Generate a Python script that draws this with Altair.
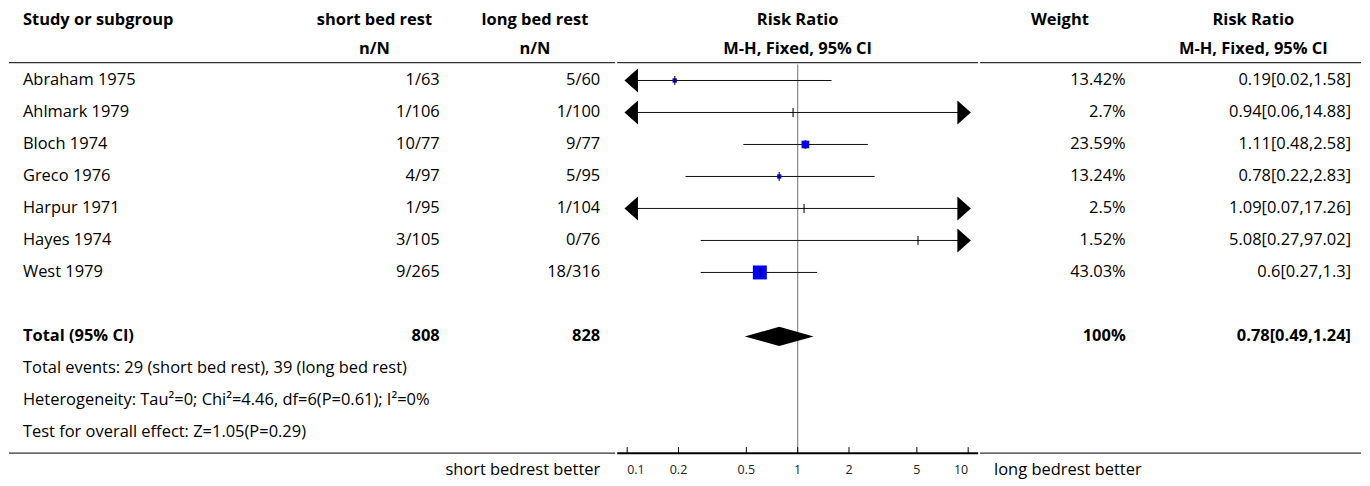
import altair as alt
import pandas as pd

# ---------------- data ----------------
studies = ["Abraham 1975", "Ahlmark 1979", "Bloch 1974", "Greco 1976",
           "Harpur 1971", "Hayes 1974", "West 1979"]
short_nN = ["1/63", "1/106", "10/77", "4/97", "1/95", "3/105", "9/265"]
long_nN = ["5/60", "1/100", "9/77", "5/95", "1/104", "0/76", "18/316"]
rr = [0.19, 0.94, 1.11, 0.78, 1.09, 5.08, 0.6]
ci_low = [0.02, 0.06, 0.48, 0.22, 0.07, 0.27, 0.27]
ci_high = [1.58, 14.88, 2.58, 2.83, 17.26, 97.02, 1.3]
weights = [13.42, 2.7, 23.59, 13.24, 2.5, 1.52, 43.03]
weight_labels = ["13.42%", "2.7%", "23.59%", "13.24%", "2.5%", "1.52%", "43.03%"]
rr_labels = ["0.19[0.02,1.58]", "0.94[0.06,14.88]", "1.11[0.48,2.58]",
             "0.78[0.22,2.83]", "1.09[0.07,17.26]", "5.08[0.27,97.02]", "0.6[0.27,1.3]"]

total_label = "Total (95% CI)"
total_short = "808"
total_long = "828"
total_rr = 0.78
total_low = 0.49
total_high = 1.24
total_weight = "100%"
total_rr_label = "0.78[0.49,1.24]"

footnotes = ["Total events: 29 (short bed rest), 39 (long bed rest)",
             "Heterogeneity: Tau\u00b2=0; Chi\u00b2=4.46, df=6(P=0.61); I\u00b2=0%",
             "Test for overall effect: Z=1.05(P=0.29)"]

axis_ticks = [0.1, 0.2, 0.5, 1, 2, 5, 10]
axis_tick_labels = ["0.1", "0.2", "0.5", "1", "2", "5", "10"]
left_favours = "short bedrest better"
right_favours = "long bedrest better"

header1 = ["Study or subgroup", "short bed rest", "long bed rest", "Risk Ratio", "Weight", "Risk Ratio"]
header2 = ["n/N", "n/N", "M-H, Fixed, 95% CI", "M-H, Fixed, 95% CI"]

# ---------------- layout ----------------
FONT = "Open Sans"
FS = 16.5
H = 470
W_LEFT, W_MID, W_RIGHT = 609, 362, 383
Y_DOM = [-2.244, 12.403]
ROW_H1, ROW_H2 = -1.885, -0.997
ROW_TOP_LINE, ROW_AXIS, ROW_AXLAB = -0.56, 11.65, 12.17
ROW_TOTAL = 8
FOOT_ROWS = [9, 10, 11]
LOG_DOM = [0.0874, 11.44]
CLIP_LO, CLIP_HI = 0.1, 10

# column anchors (page pixels)
X_STUDY = 22
X_SHORT_C, X_SHORT_R = 374.5, 440
X_LONG_C, X_LONG_R = 535.5, 601
X_WEIGHT_C, X_WEIGHT_R = 1060, 1126
X_RR_C, X_RR_R = 1254, 1352
X_RFAV = 994

yscale = alt.Scale(domain=Y_DOM, reverse=True, nice=False, zero=False)
xl_scale = alt.Scale(domain=[8, 617], nice=False, zero=False)
xr_scale = alt.Scale(domain=[979, 1362], nice=False, zero=False)
xm_scale = alt.Scale(type="log", domain=LOG_DOM, nice=False)

Y = lambda f: alt.Y(f, type="quantitative", scale=yscale, axis=None)
XL = lambda f: alt.X(f, type="quantitative", scale=xl_scale, axis=None)
XR = lambda f: alt.X(f, type="quantitative", scale=xr_scale, axis=None)
XM = lambda f: alt.X(f, type="quantitative", scale=xm_scale, axis=None)

rows = list(range(len(studies)))
studies_df = pd.DataFrame({
    "row": rows, "study": studies, "s": short_nN, "l": long_nN,
    "rr": rr, "lo": ci_low, "hi": ci_high, "w": weights,
    "wl": weight_labels, "rl": rr_labels,
})
studies_df["lo_c"] = studies_df["lo"].clip(lower=CLIP_LO)
studies_df["hi_c"] = studies_df["hi"].clip(upper=CLIP_HI)


def txt(df, align, bold=False, size=FS):
    return alt.Chart(df).mark_text(align=align, baseline="middle", font=FONT,
                                   fontSize=size, fontWeight="bold" if bold else "normal",
                                   color="black")


def col_text(field, x, align, enc):
    return txt(studies_df, align).transform_calculate(sx=str(x)).encode(
        x=enc("sx"), y=Y("row"), text=f"{field}:N")


# ---- left panel ----
lh1 = pd.DataFrame({"x": [X_STUDY], "row": [ROW_H1], "t": [header1[0]]})
lh1_t = txt(lh1, "left", True).encode(x=XL("x"), y=Y("row"), text="t:N")
lhc = pd.DataFrame({"x": [X_SHORT_C, X_LONG_C, X_SHORT_C, X_LONG_C],
                    "row": [ROW_H1, ROW_H1, ROW_H2, ROW_H2],
                    "t": [header1[1], header1[2], header2[0], header2[1]]})
lhc_t = txt(lhc, "center", True).encode(x=XL("x"), y=Y("row"), text="t:N")

study_txt = col_text("study", X_STUDY, "left", XL)
short_txt = col_text("s", X_SHORT_R, "right", XL)
long_txt = col_text("l", X_LONG_R, "right", XL)

tot_df = pd.DataFrame({"x": [X_STUDY], "row": [ROW_TOTAL], "t": [total_label]})
tot_a = txt(tot_df, "left", True).encode(x=XL("x"), y=Y("row"), text="t:N")
tot_n = pd.DataFrame({"x": [X_SHORT_R, X_LONG_R], "row": [ROW_TOTAL] * 2,
                      "t": [total_short, total_long]})
tot_b = txt(tot_n, "right", True).encode(x=XL("x"), y=Y("row"), text="t:N")

foot_df = pd.DataFrame({"x": [X_STUDY] * 3, "row": FOOT_ROWS, "t": footnotes})
foot = txt(foot_df, "left").encode(x=XL("x"), y=Y("row"), text="t:N")

lfav = pd.DataFrame({"x": [X_LONG_R], "row": [ROW_AXLAB], "t": [left_favours]})
lfav_t = txt(lfav, "right").encode(x=XL("x"), y=Y("row"), text="t:N")

lline = pd.DataFrame({"x": [8, 8], "x2": [616, 616], "row": [ROW_TOP_LINE, ROW_AXIS]})
lline_r = alt.Chart(lline).mark_rule(color="#333", strokeWidth=1.3).encode(
    x=XL("x"), x2="x2:Q", y=Y("row"))

left = alt.layer(lline_r, lh1_t, lhc_t, study_txt, short_txt, long_txt,
                 tot_a, tot_b, foot, lfav_t).properties(width=W_LEFT, height=H)

# ---- middle panel ----
mhead = pd.DataFrame({"x": [1, 1], "row": [ROW_H1, ROW_H2], "t": [header1[3], header2[2]]})
mhead_t = txt(mhead, "center", True).encode(x=XM("x"), y=Y("row"), text="t:N")

mline = pd.DataFrame({"x": [LOG_DOM[0]], "x2": [LOG_DOM[1]], "row": [ROW_TOP_LINE]})
mline_r = alt.Chart(mline).mark_rule(color="#333", strokeWidth=1.3).encode(
    x=XM("x"), x2="x2:Q", y=Y("row"))
maxis = pd.DataFrame({"x": [LOG_DOM[0]], "x2": [LOG_DOM[1]], "row": [ROW_AXIS]})
maxis_r = alt.Chart(maxis).mark_rule(color="black", strokeWidth=2).encode(
    x=XM("x"), x2="x2:Q", y=Y("row"))

ref = pd.DataFrame({"x": [1], "row": [-0.5], "row2": [ROW_AXIS]})
ref_r = alt.Chart(ref).mark_rule(color="#8a8a8a", strokeWidth=1.2).encode(
    x=XM("x"), y=Y("row"), y2="row2:Q")

ticks_df = pd.DataFrame({"x": axis_ticks, "lab": axis_tick_labels,
                         "row": [ROW_AXIS] * 7, "row2": [ROW_AXIS - 0.19] * 7,
                         "rl": [ROW_AXLAB] * 7, "i": list(range(7))})
ticks_r = alt.Chart(ticks_df).mark_rule(color="black", strokeWidth=1).encode(
    x=XM("x"), y=Y("row"), y2="row2:Q")


def tick_text(align, cond):
    return alt.Chart(ticks_df).transform_filter(cond).mark_text(
        font=FONT, fontSize=12.5, baseline="middle", align=align, color="#222").encode(
        x=XM("x"), y=Y("rl"), text="lab:N")


ticks_t_first = tick_text("left", "datum.i == 0")
ticks_t_mid = tick_text("center", "datum.i > 0 && datum.i < 6")
ticks_t_last = tick_text("right", "datum.i == 6")

ci_r = alt.Chart(studies_df).mark_rule(color="#111", strokeWidth=1).encode(
    x=XM("lo_c"), x2="hi_c:Q", y=Y("row"))
box = alt.Chart(studies_df).mark_square(color="#0000ff", opacity=1).encode(
    x=XM("rr"), y=Y("row"),
    size=alt.Size("w:Q", scale=alt.Scale(type="pow", exponent=2, domain=[0, 43.03],
                                         range=[0, 196]), legend=None))
est_tick = alt.Chart(studies_df).mark_tick(color="black", orient="vertical", size=9,
                                           thickness=1.5).encode(x=XM("rr"), y=Y("row"))

arrow_left = alt.Chart(studies_df).transform_filter(f"datum.lo < {CLIP_LO}").transform_calculate(
    ax=f"{CLIP_LO}").mark_point(shape="M0.9,-1L-0.225,0L0.9,1Z", filled=True, color="black",
                                  opacity=1, size=576).encode(x=XM("ax"), y=Y("row"))
arrow_right = alt.Chart(studies_df).transform_filter(f"datum.hi > {CLIP_HI}").transform_calculate(
    ax=f"{CLIP_HI}").mark_point(shape="M-0.9,-1L0.225,0L-0.9,1Z", filled=True, color="black",
                                  opacity=1, size=576).encode(x=XM("ax"), y=Y("row"))

dia = pd.DataFrame({"x": [total_low, total_rr, total_high],
                    "y": [ROW_TOTAL, ROW_TOTAL - 0.3, ROW_TOTAL],
                    "y2": [ROW_TOTAL, ROW_TOTAL + 0.3, ROW_TOTAL]})
dia_a = alt.Chart(dia).mark_area(color="black", orient="vertical", opacity=1).encode(
    x=XM("x"), y=Y("y"), y2="y2:Q")

mid = alt.layer(mline_r, ref_r, maxis_r, ticks_r, ticks_t_first, ticks_t_mid, ticks_t_last,
                mhead_t, ci_r, box, est_tick, arrow_left, arrow_right, dia_a).properties(
    width=W_MID, height=H)

# ---- right panel ----
rhead = pd.DataFrame({"x": [X_WEIGHT_C, X_RR_C, X_RR_C], "row": [ROW_H1, ROW_H1, ROW_H2],
                      "t": [header1[4], header1[5], header2[3]]})
rhead_t = txt(rhead, "center", True).encode(x=XR("x"), y=Y("row"), text="t:N")

w_txt = col_text("wl", X_WEIGHT_R, "right", XR)
r_txt = col_text("rl", X_RR_R, "right", XR)
rtot = pd.DataFrame({"x": [X_WEIGHT_R, X_RR_R], "row": [ROW_TOTAL] * 2,
                     "t": [total_weight, total_rr_label]})
rtot_t = txt(rtot, "right", True).encode(x=XR("x"), y=Y("row"), text="t:N")

rfav = pd.DataFrame({"x": [X_RFAV], "row": [ROW_AXLAB], "t": [right_favours]})
rfav_t = txt(rfav, "left").encode(x=XR("x"), y=Y("row"), text="t:N")

rline = pd.DataFrame({"x": [980, 980], "x2": [1362, 1362], "row": [ROW_TOP_LINE, ROW_AXIS]})
rline_r = alt.Chart(rline).mark_rule(color="#333", strokeWidth=1.3).encode(
    x=XR("x"), x2="x2:Q", y=Y("row"))

right = alt.layer(rline_r, rhead_t, w_txt, r_txt, rtot_t, rfav_t).properties(
    width=W_RIGHT, height=H)

chart = alt.hconcat(left, mid, right, spacing=0).resolve_scale(
    x="independent", y="shared", size="independent").properties(padding=0).configure_view(
    stroke=None).configure_concat(spacing=0)

chart.save("out.html", embed_options={"renderer": "svg", "actions": False})
